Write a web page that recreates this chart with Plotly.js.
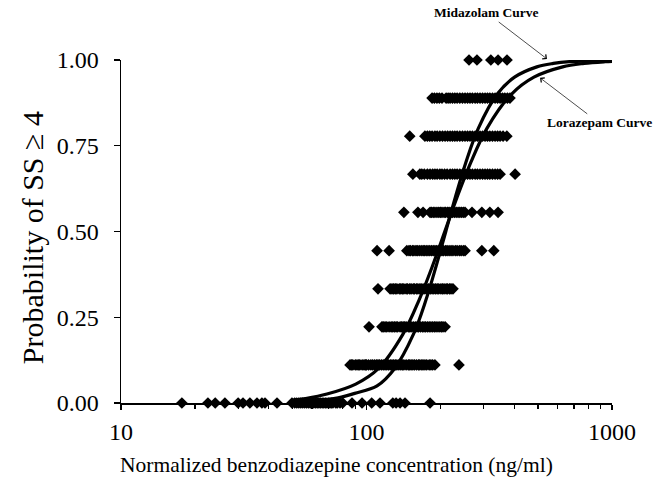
<!DOCTYPE html>
<html>
<head>
<meta charset="utf-8">
<script src="https://cdn.plot.ly/plotly-3.0.1.min.js"></script>
<style>html,body{margin:0;padding:0;background:#fff;}#chart{width:660px;height:478px;}</style>
</head>
<body>
<div id="chart"></div>
<script>
// Observed probability levels (k/9) and the concentrations (ng/ml) of points on each level
const levels = [0.000, 0.111, 0.222, 0.333, 0.444, 0.556, 0.667, 0.778, 0.889, 1.000];
const conc0 = [17.7, 22.6, 24.2, 26.5, 30.0, 31.4, 33.5, 35.8, 37.5, 38.6, 43.2, 49.7, 51, 52, 53, 54, 55, 56, 57, 58, 59, 60, 61, 62, 63, 64, 65, 66, 67, 68, 69, 70, 71, 72, 73, 75, 76, 78, 80, 87.3, 95.9, 105, 113.5, 128, 132, 137, 143.5, 181.5];
const conc1 = [85.7, 87, 88, 90, 91.5, 93, 94, 96, 97.7, 99, 100, 102, 104.2, 106, 108, 110, 111.4, 113, 115, 117, 119, 121, 123, 125, 127, 129, 131, 133, 135.5, 138, 140, 142, 145, 148, 150, 152, 154.5, 157, 160, 163, 165, 168, 170, 173, 176, 180, 183, 186, 190, 238];
const conc2 = [102.4, 115.6, 117, 119, 121, 123.6, 126, 128, 130, 132, 134, 137, 139, 141, 143, 145, 148, 150, 152, 155, 158, 160.6, 163, 166, 169, 171.5, 174, 177, 180, 183, 186, 189, 192, 195.5, 199, 202, 205, 209];
const conc3 = [111.4, 124.8, 127, 129, 131, 133, 136, 138, 140, 142, 145, 147, 150, 152, 155, 157, 160, 162, 165, 167, 170, 173, 176, 179, 182, 185, 188, 191, 194, 197, 201, 204, 207, 211, 214, 218, 221, 225];
const conc4 = [110.4, 123.6, 146, 149, 151, 154, 156, 159, 161, 164, 167, 170, 172, 175, 178, 181, 184, 187, 190, 193, 196, 200, 203, 206, 210, 213, 217, 221, 225, 230, 234, 239, 243, 248, 252, 295, 330];
const conc5 = [142, 162, 170, 181.5, 184, 187, 190, 193.6, 197, 200, 203, 207, 210, 214, 217, 221, 224, 228, 232, 236, 240, 244, 248, 252, 269, 295, 318, 343.5];
const conc6 = [154.5, 165, 168, 172, 177, 181.5, 186, 190, 194, 199, 203, 208, 213, 219, 224, 229, 234, 240, 246, 252, 258, 264, 270, 277, 283, 290, 297, 304, 311, 318, 326, 334, 342, 350, 403];
const conc7 = [150, 173, 177, 181, 185, 190, 194, 199, 204, 209, 214, 219, 224, 229, 234, 240, 246, 252, 258, 264, 270, 277, 283, 290, 297, 304, 311, 318, 326, 334, 342, 350, 360, 373];
const conc8 = [185, 189, 193.6, 198, 203, 211, 215, 219, 224, 229, 234, 240, 246, 252, 258, 264, 270, 277, 283, 290, 297, 304, 311, 318, 326, 334, 342, 350, 358, 366, 375, 384];
const conc9 = [261.6, 281.8, 321, 343.5, 373.5];

// Fitted curves
const midazolamX = [50, 65.9, 76.7, 89.5, 110.4, 130, 155.2, 174.6, 192.3, 210.4, 230.1, 253.5, 285.1, 340.4, 400.9, 494.3, 576.8, 671.4, 1000];
const midazolamY = [0.003, 0.008, 0.015, 0.028, 0.05, 0.1, 0.2, 0.3, 0.4, 0.5, 0.6, 0.7, 0.8, 0.9, 0.95, 0.98, 0.99, 0.995, 0.999];
const lorazepamX = [50, 56.5, 69.0, 90.4, 111.7, 140.6, 163.7, 185.8, 208.4, 233.9, 265.5, 309.0, 389.0, 480.8, 629.5, 769.1, 937.6, 1000];
const lorazepamY = [0.008, 0.013, 0.026, 0.055, 0.1, 0.2, 0.3, 0.4, 0.5, 0.6, 0.7, 0.8, 0.9, 0.95, 0.98, 0.99, 0.995, 0.996];

const xTickVals = [10, 100, 1000];
const xTickText = ['10', '100', '1000'];
const xMinorVals = [20, 30, 40, 50, 60, 70, 80, 90, 200, 300, 400, 500, 600, 700, 800, 900];
const yTickVals = [0, 0.25, 0.5, 0.75, 1.0];

const rows = [conc0, conc1, conc2, conc3, conc4, conc5, conc6, conc7, conc8, conc9];
const px = [], py = [];
rows.forEach((r, i) => r.forEach(v => { px.push(v); py.push(levels[i]); }));

const font = 'Liberation Serif';
const traces = [
  {x: px, y: py, type: 'scatter', mode: 'markers', cliponaxis: false,
   marker: {symbol: 'diamond', size: 9, color: '#000'}, hoverinfo: 'x+y'},
  {x: midazolamX, y: midazolamY, type: 'scatter', mode: 'lines', name: 'Midazolam',
   line: {color: '#000', width: 3.2, shape: 'spline'}},
  {x: lorazepamX, y: lorazepamY, type: 'scatter', mode: 'lines', name: 'Lorazepam',
   line: {color: '#000', width: 3.2, shape: 'spline'}}
];

const layout = {
  width: 660, height: 478,
  margin: {l: 121, r: 48, t: 60, b: 75},
  paper_bgcolor: '#fff', plot_bgcolor: '#fff',
  showlegend: false,
  font: {family: font, color: '#000'},
  xaxis: {
    type: 'log', range: [1, 3],
    tickvals: xTickVals, ticktext: xTickText,
    ticks: 'outside', ticklen: 5, tickwidth: 1.2, tickcolor: '#000',
    minor: {tickvals: xMinorVals, ticks: 'outside', ticklen: 4, tickwidth: 1.2, tickcolor: '#000'},
    showline: true, linecolor: '#000', linewidth: 1.5,
    showgrid: false, zeroline: false,
    tickfont: {family: font, size: 24, color: '#000'},
    ticklabelstandoff: 2
  },
  yaxis: {
    range: [0, 1],
    tickvals: yTickVals, tickformat: '.2f',
    ticks: 'outside', ticklen: 6, tickwidth: 1.2, tickcolor: '#000',
    showline: true, linecolor: '#000', linewidth: 1.5,
    showgrid: false, zeroline: false,
    tickfont: {family: font, size: 24, color: '#000'},
    ticklabelstandoff: 10
  },
  annotations: [
    {x: 0.438, y: -0.181, xref: 'paper', yref: 'paper', xanchor: 'center', yanchor: 'middle',
     text: 'Normalized benzodiazepine concentration (ng/ml)', showarrow: false,
     font: {family: font, size: 21.5, color: '#000'}},
    {x: -0.181, y: 0.481, xref: 'paper', yref: 'paper', xanchor: 'center', yanchor: 'middle',
     text: 'Probability of SS \u2265 4', textangle: -90, showarrow: false,
     font: {family: font, size: 30, color: '#000'}},
    {x: 0.8676, y: 1.003, xref: 'paper', yref: 'paper', text: '<b>Midazolam Curve</b>',
     showarrow: true, ax: -60, ay: -46, arrowhead: 4, arrowsize: 1.6, arrowwidth: 0.7, arrowcolor: '#000',
     font: {family: font, size: 13.5, color: '#000'}},
    {x: 0.8534, y: 0.948, xref: 'paper', yref: 'paper', text: '<b>Lorazepam Curve</b>',
     showarrow: true, ax: 59, ay: 45, arrowhead: 4, arrowsize: 1.6, arrowwidth: 0.7, arrowcolor: '#000',
     font: {family: font, size: 13.5, color: '#000'}}
  ]
};

Plotly.newPlot('chart', traces, layout, {displayModeBar: false, staticPlot: true});
</script>
</body>
</html>
